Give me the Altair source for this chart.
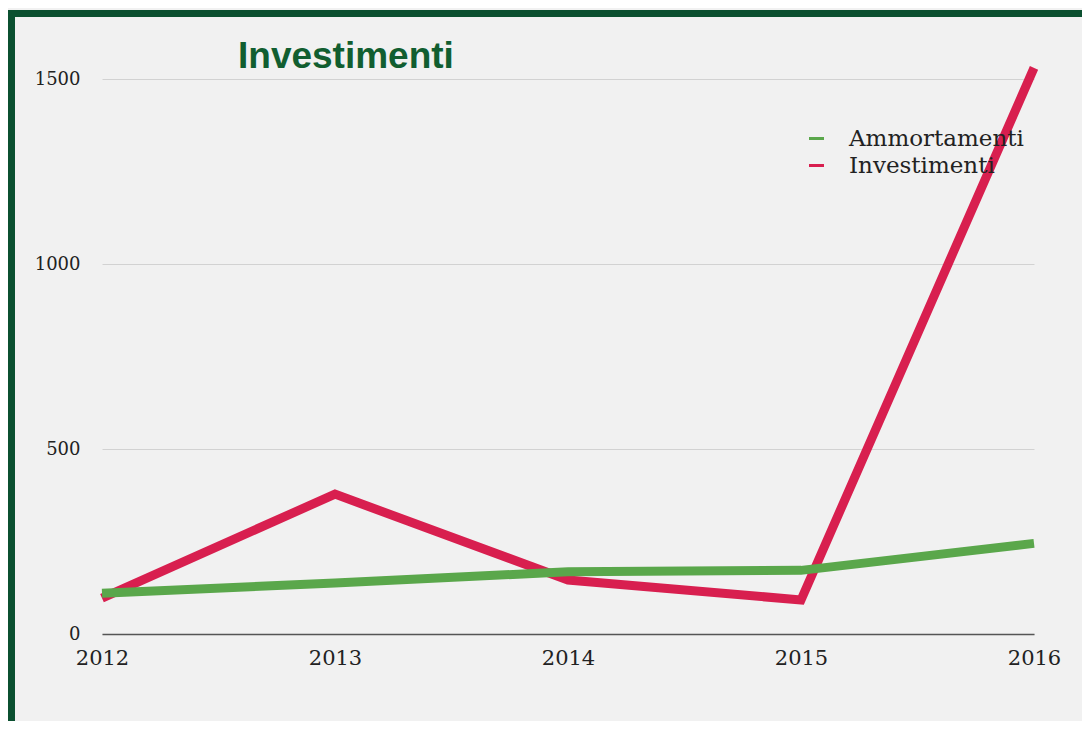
import altair as alt
import pandas as pd

years = [2012, 2013, 2014, 2015, 2016]
ammortamenti = [110, 138, 168, 172, 245]
investimenti = [97, 378, 146, 92, 1530]

series_names = ["Ammortamenti", "Investimenti"]
series_colors = ["#5aa74b", "#d81f4f"]
chart_title = "Investimenti"

df = pd.DataFrame({
    "Anno": years * 2,
    "Valore": ammortamenti + investimenti,
    "Serie": ["Ammortamenti"] * len(years) + ["Investimenti"] * len(years),
})

color = alt.Color(
    "Serie:N",
    scale=alt.Scale(domain=series_names, range=series_colors),
    legend=alt.Legend(
        title=None,
        orient="none",
        legendX=703,
        legendY=48,
        symbolType="stroke",
        symbolStrokeWidth=3,
        symbolSize=225,
        labelFont="DejaVu Serif",
        labelFontSize=23,
        labelColor="#222222",
        labelOffset=21,
        labelLimit=0,
        rowPadding=3,
    ),
)

x = alt.X(
    "Anno:Q",
    scale=alt.Scale(domain=[2012, 2016], nice=False, zero=False),
    axis=alt.Axis(
        title=None,
        values=years,
        format="d",
        grid=False,
        ticks=False,
        domainColor="#555555",
        domainWidth=1.5,
        labelFont="DejaVu Serif",
        labelFontSize=21,
        labelColor="#222222",
        labelPadding=13,
        labelFlush=False,
    ),
)
y = alt.Y(
    "Valore:Q",
    scale=alt.Scale(domain=[0, 1500], nice=False),
    axis=alt.Axis(
        title=None,
        values=[0, 500, 1000, 1500],
        format="d",
        grid=True,
        gridColor="#d2d2d2",
        gridWidth=1,
        domain=False,
        ticks=False,
        labelFont="DejaVu Serif",
        labelFontSize=18,
        labelColor="#222222",
        labelPadding=22,
    ),
)

frame = alt.Chart(pd.DataFrame({"k": [0]})).mark_rect(
    filled=False, stroke="#0b5030", strokeWidth=7
).encode(
    x=alt.value(-90.5), x2=alt.value(1100),
    y=alt.value(-65.5), y2=alt.value(720),
)

title_text = alt.Chart(pd.DataFrame({"t": [chart_title]})).mark_text(
    align="left",
    baseline="alphabetic",
    font="Liberation Sans",
    fontSize=37,
    fontWeight="bold",
    color="#115e30",
).encode(x=alt.value(136), y=alt.value(-11), text="t:N")

red = alt.Chart(df).transform_filter(alt.datum.Serie == "Investimenti").mark_line(
    strokeWidth=9, strokeJoin="miter", strokeCap="butt"
).encode(x=x, y=y, color=color)

green = alt.Chart(df).transform_filter(alt.datum.Serie == "Ammortamenti").mark_line(
    strokeWidth=9, strokeJoin="miter", strokeCap="butt"
).encode(x=x, y=y, color=color)

chart = alt.layer(red, green, frame, title_text).properties(
    width=932,
    height=555,
    autosize=alt.AutoSizeParams(type="none"),
    padding={"left": 94, "top": 71, "right": 48, "bottom": 87},
    background="#f1f1f1",
).configure_view(stroke=None)

chart.save("out.html", embed_options={"renderer": "svg", "actions": False})
